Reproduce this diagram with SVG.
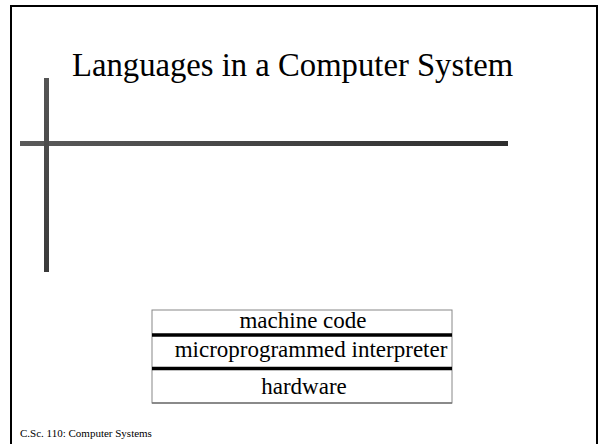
<svg xmlns="http://www.w3.org/2000/svg" width="600" height="444" viewBox="0 0 600 444">
  <defs>
    <linearGradient id="barH" x1="0" y1="0" x2="1" y2="0">
      <stop offset="0" stop-color="#5a5a5a"/>
      <stop offset="1" stop-color="#2e2e2e"/>
    </linearGradient>
    <linearGradient id="barV" x1="0" y1="0" x2="0" y2="1">
      <stop offset="0" stop-color="#555"/>
      <stop offset="1" stop-color="#3a3a3a"/>
    </linearGradient>
  </defs>
  <style>
    .serif { font-family: "Liberation Serif", "Times New Roman", serif; fill: #000; }
    .title { font-size: 32.7px; }
    .layer { font-size: 23px; text-anchor: middle; }
    .foot { font-size: 11px; }
    .sep { stroke: #000; stroke-width: 3.5; }
    .edge { stroke: #888; stroke-width: 1; fill: none; }
  </style>
  <rect width="600" height="444" fill="#fff"/>
  <!-- slide frame -->
  <path d="M11 460 V6 H597 V460" fill="none" stroke="#000" stroke-width="2"/>
  <!-- decorative crosshair -->
  <rect x="20" y="141" width="488" height="5" fill="url(#barH)"/>
  <rect x="44" y="78" width="5" height="194" fill="url(#barV)"/>
  <text class="serif title" x="72" y="76">Languages in a Computer System</text>
  <!-- layer stack -->
  <g id="stack">
    <rect class="edge" x="152" y="310" width="300" height="93"/>
    <g id="machine-code">
      <text class="serif layer" x="303" y="328">machine code</text>
    </g>
    <line class="sep" x1="152" y1="335" x2="452" y2="335"/>
    <g id="interpreter">
      <text class="serif layer" x="311" y="357">microprogrammed interpreter</text>
    </g>
    <line class="sep" x1="152" y1="368.5" x2="452" y2="368.5"/>
    <g id="hardware">
      <text class="serif layer" x="304" y="394">hardware</text>
    </g>
    <line x1="152" y1="403" x2="452" y2="403" stroke="#777" stroke-width="1.5"/>
  </g>
  <text class="serif foot" x="20" y="437">C.Sc. 110: Computer Systems</text>
</svg>
